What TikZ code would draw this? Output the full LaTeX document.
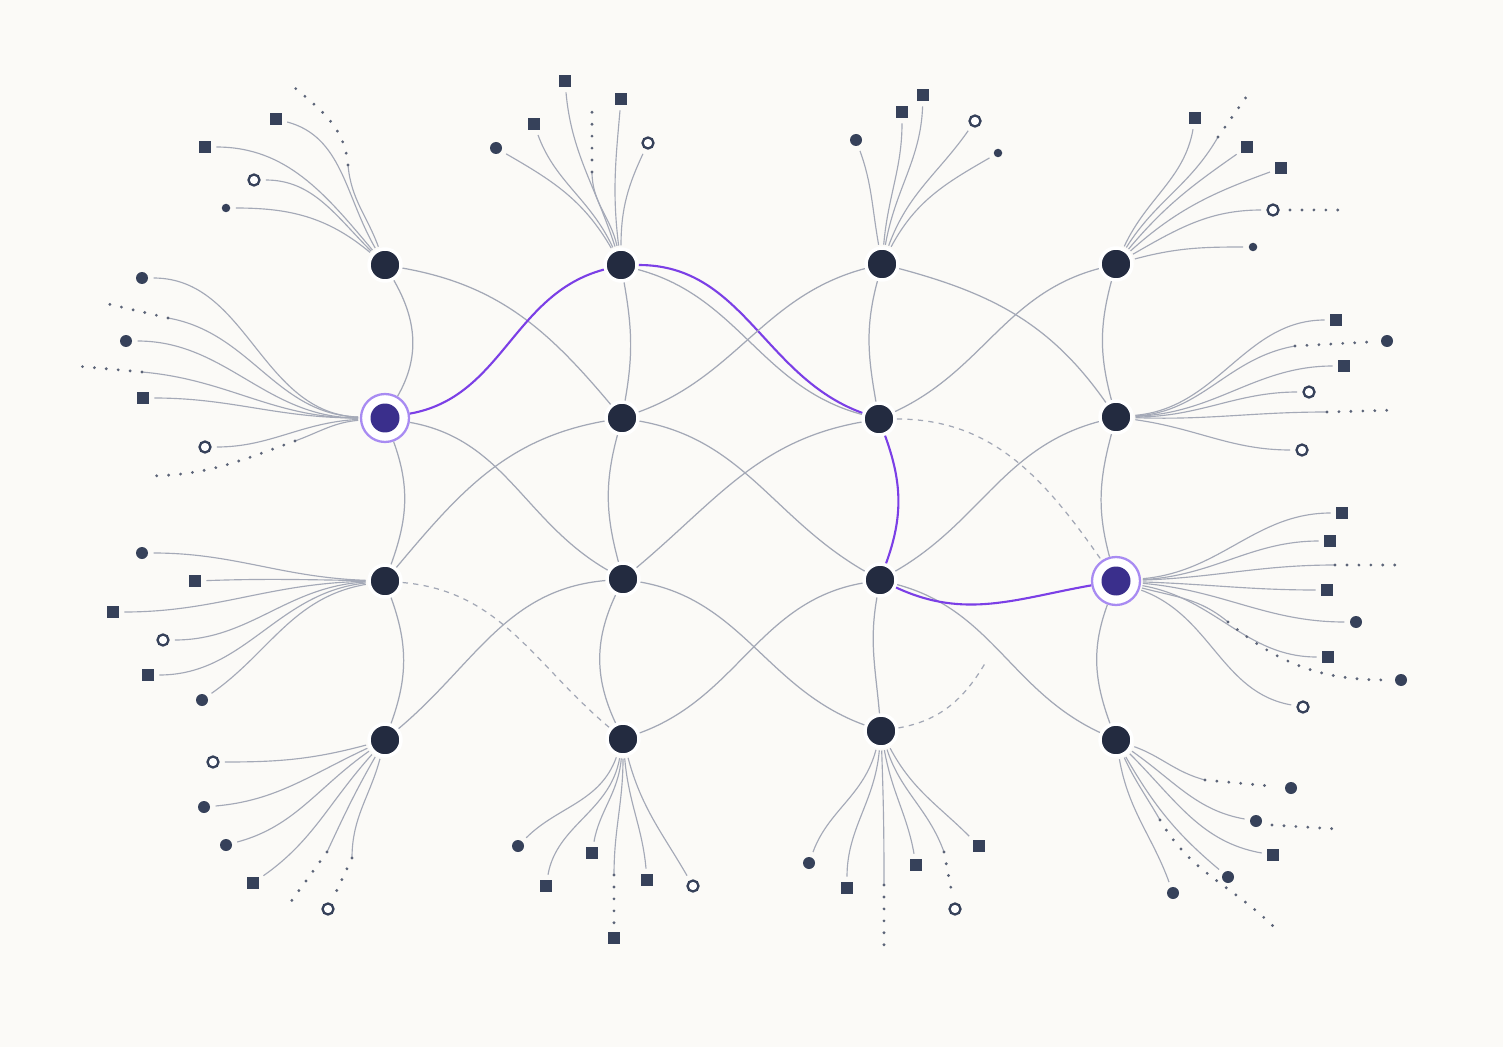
\documentclass[tikz,border=0pt]{standalone}
\definecolor{bgc}{HTML}{FBFAF7}
\definecolor{navy}{HTML}{232B40}
\definecolor{hlf}{HTML}{3A2F8C}
\definecolor{ringc}{HTML}{A88BF2}
\definecolor{purp}{HTML}{7B3FE6}
\definecolor{edgec}{HTML}{A3A8B6}
\definecolor{spk}{HTML}{A4A9B7}
\definecolor{mk}{HTML}{36415A}
\definecolor{dotc}{HTML}{5C6478}
\begin{document}
\begin{tikzpicture}[x=0.02cm,y=-0.02cm,
 hub/.style={circle,fill=navy,draw=white,line width=2pt,minimum size=0.64cm,inner sep=0pt},
 hubhl/.style={circle,fill=white,draw=ringc,line width=1.3pt,minimum size=0.96cm,inner sep=0pt,
   path picture={\fill[hlf] (path picture bounding box.center) circle (0.29cm);}},
 sq/.style={rectangle,fill=mk,minimum size=0.23cm,inner sep=0pt},
 dt/.style={circle,fill=mk,minimum size=0.24cm,inner sep=0pt},
 sdt/.style={circle,fill=mk,minimum size=0.17cm,inner sep=0pt},
 oc/.style={circle,draw=mk,fill=white,line width=1.3pt,minimum size=0.22cm,inner sep=0pt},
 ed/.style={draw=edgec,line width=0.7pt},
 edd/.style={ed,dash pattern=on 3pt off 3pt},
 pe/.style={draw=purp,line width=1.2pt},
 sp/.style={draw=spk,line width=0.65pt,shorten <=1pt,shorten >=3pt},
 spc/.style={draw=spk,line width=0.65pt,shorten <=1pt},
 dots/.style={draw=dotc,line width=1.8pt,line cap=round,dash pattern=on 0pt off 6.8pt},
]
\fill[bgc] (0,0) rectangle (1503,1047);
\useasboundingbox (0,0) rectangle (1503,1047);

% hubs
\node[hub] (n11) at (385,265) {};
\node[hub] (n12) at (621,265) {};
\node[hub] (n13) at (882,264) {};
\node[hub] (n14) at (1116,264) {};
\node[hubhl] (n21) at (385,418) {};
\node[hub] (n22) at (622,418) {};
\node[hub] (n23) at (879,419) {};
\node[hub] (n24) at (1116,417) {};
\node[hub] (n31) at (385,581) {};
\node[hub] (n32) at (623,579) {};
\node[hub] (n33) at (880,580) {};
\node[hubhl] (n34) at (1116,581) {};
\node[hub] (n41) at (385,740) {};
\node[hub] (n42) at (623,739) {};
\node[hub] (n43) at (881,731) {};
\node[hub] (n44) at (1116,740) {};

% grid edges
\draw[ed] (n11) to[out=-60,in=60] (n21);
\draw[ed] (n21) to[out=-70,in=70] (n31);
\draw[ed] (n31) to[out=-70,in=70] (n41);
\draw[ed] (n12) to[out=-80,in=80] (n22);
\draw[ed] (n22) to[out=-105,in=105] (n32);
\draw[ed] (n32) to[out=-115,in=115] (n42);
\draw[ed] (n13) to[out=-105,in=100] (n23);
\draw[pe] (n23) to[out=-70,in=70] (n33);
\draw[ed] (n33) to[out=-100,in=95] (n43);
\draw[ed] (n14) to[out=-105,in=105] (n24);
\draw[ed] (n24) to[out=-105,in=105] (n34);
\draw[ed] (n34) to[out=-110,in=110] (n44);

\draw[ed] (n11) to[out=-10,in=130] (n22);
\draw[pe] (n21) to[out=10,in=195] (n12);
\draw[pe] (n12) to[out=0,in=160] (n23);
\draw[ed] (n12) to[out=-15,in=165] (n23);
\draw[ed] (n22) to[out=20,in=195] (n13);
\draw[ed] (n21) to[out=-10,in=150] (n32);
\draw[ed] (n22) to[out=190,in=50] (n31);
\draw[ed] (n22) to[out=-10,in=150] (n33);
\draw[ed] (n23) to[out=190,in=40] (n32);
\draw[ed] (n32) to[out=185,in=40] (n41);
\draw[edd] (n31) to[out=-5,in=140] (n42);
\draw[ed] (n32) to[out=-10,in=160] (n43);
\draw[ed] (n33) to[out=190,in=20] (n42);
\draw[ed] (n13) to[out=-15,in=125] (n24);
\draw[ed] (n14) to[out=195,in=25] (n23);
\draw[ed] (n24) to[out=195,in=30] (n33);
\draw[edd] (n23) to[out=0,in=125] (n34);
\draw[ed] (n33) to[out=-15,in=155] (n44);
\draw[pe] (n33) to[out=-25,in=190] (n34);
\coordinate (stub) at (987,660);
\draw[edd] (n43) to[out=10,in=-120] (stub);

% fan n11
\node[sq] (a1) at (276,119) {};
\node[sq] (a2) at (205,147) {};
\node[oc] (a3) at (254,180) {};
\node[sdt] (a4) at (226,208) {};
\coordinate (a5m) at (348,165); \coordinate (a5e) at (295,88);
\draw[sp] (n11) to[out=120,in=-15] (a1);
\draw[sp] (n11) to[out=130,in=0] (a2);
\draw[sp] (n11) to[out=135,in=0] (a3);
\draw[sp] (n11) to[out=140,in=0] (a4);
\draw[spc] (n11) to[out=110,in=-85] (a5m);
\draw[dots] (a5m) to[out=95,in=-40] (a5e);

% fan n21
\node[dt] (b1) at (142,278) {};
\coordinate (b2m) at (168,318); \coordinate (b2e) at (104,303);
\node[dt] (b3) at (126,341) {};
\coordinate (b4m) at (142,372); \coordinate (b4e) at (76,366);
\node[sq] (b5) at (143,398) {};
\node[oc] (b6) at (205,447) {};
\coordinate (b7m) at (295,441); \coordinate (b7e) at (145,476);
\draw[sp] (n21) to[out=178,in=0] (b1);
\draw[spc] (n21) to[out=178,in=-10] (b2m); \draw[dots] (b2m) -- (b2e);
\draw[sp] (n21) to[out=180,in=0] (b3);
\draw[spc] (n21) to[out=180,in=-5] (b4m); \draw[dots] (b4m) -- (b4e);
\draw[sp] (n21) to[out=180,in=0] (b5);
\draw[sp] (n21) to[out=183,in=0] (b6);
\draw[spc] (n21) to[out=185,in=20] (b7m); \draw[dots] (b7m) to[out=200,in=0] (b7e);

% fan n31
\node[dt] (c1) at (142,553) {};
\node[sq] (c2) at (195,581) {};
\node[sq] (c3) at (113,612) {};
\node[oc] (c4) at (163,640) {};
\node[sq] (c5) at (148,675) {};
\node[dt] (c6) at (202,700) {};
\draw[sp] (n31) to[out=178,in=0] (c1);
\draw[sp] (n31) to[out=179,in=2] (c2);
\draw[sp] (n31) to[out=181,in=0] (c3);
\draw[sp] (n31) to[out=183,in=0] (c4);
\draw[sp] (n31) to[out=186,in=0] (c5);
\draw[sp] (n31) to[out=190,in=35] (c6);

% fan n41
\node[oc] (d1) at (213,762) {};
\node[dt] (d2) at (204,807) {};
\node[dt] (d3) at (226,845) {};
\node[sq] (d4) at (253,883) {};
\coordinate (d5m) at (327,852); \coordinate (d5e) at (287,907);
\coordinate (d6m) at (352,858); \node[oc] (d6) at (328,909) {};
\draw[sp] (n41) to[out=195,in=0] (d1);
\draw[sp] (n41) to[out=205,in=5] (d2);
\draw[sp] (n41) to[out=215,in=15] (d3);
\draw[sp] (n41) to[out=228,in=35] (d4);
\draw[spc] (n41) to[out=240,in=65] (d5m); \draw[dots] (d5m) -- (d5e);
\draw[spc] (n41) to[out=255,in=90] (d6m); \draw[dots,shorten >=5pt] (d6m) -- (d6);

% fan n12
\node[dt] (e1) at (496,148) {};
\node[sq] (e2) at (534,124) {};
\node[sq] (e3) at (565,81) {};
\coordinate (e4m) at (592,172); \coordinate (e4e) at (592,108);
\node[sq] (e5) at (621,99) {};
\node[oc] (e6) at (648,143) {};
\draw[sp] (n12) to[out=120,in=-30] (e1);
\draw[sp] (n12) to[out=115,in=-70] (e2);
\draw[sp] (n12) to[out=108,in=-85] (e3);
\draw[spc] (n12) to[out=102,in=-90] (e4m); \draw[dots] (e4m) -- (e4e);
\draw[sp] (n12) to[out=97,in=-95] (e5);
\draw[sp] (n12) to[out=90,in=-115] (e6);

% fan n13
\node[dt] (f1) at (856,140) {};
\node[sq] (f2) at (902,112) {};
\node[sq] (f3) at (923,95) {};
\node[oc] (f4) at (975,121) {};
\node[sdt] (f5) at (998,153) {};
\draw[sp] (n13) to[out=100,in=-70] (f1);
\draw[sp] (n13) to[out=85,in=-90] (f2);
\draw[sp] (n13) to[out=80,in=-92] (f3);
\draw[sp] (n13) to[out=70,in=-125] (f4);
\draw[sp] (n13) to[out=62,in=-150] (f5);

% fan n14
\node[sq] (g1) at (1195,118) {};
\coordinate (g2m) at (1218,137); \coordinate (g2e) at (1249,93);
\node[sq] (g3) at (1247,147) {};
\node[sq] (g4) at (1281,168) {};
\node[oc] (g5) at (1273,210) {};
\coordinate (g5a) at (1290,210); \coordinate (g5b) at (1345,210);
\node[sdt] (g6) at (1253,247) {};
\draw[sp] (n14) to[out=65,in=-100] (g1);
\draw[spc] (n14) to[out=58,in=-120] (g2m); \draw[dots] (g2m) -- (g2e);
\draw[sp] (n14) to[out=50,in=-145] (g3);
\draw[sp] (n14) to[out=42,in=-160] (g4);
\draw[sp] (n14) to[out=30,in=180] (g5);
\draw[dots] (g5a) -- (g5b);
\draw[sp] (n14) to[out=15,in=180] (g6);

% fan n24
\node[sq] (h1) at (1336,320) {};
\coordinate (h2m) at (1295,346); \node[dt] (h2) at (1387,341) {};
\node[sq] (h3) at (1344,366) {};
\node[oc] (h4) at (1309,392) {};
\coordinate (h5m) at (1327,412); \coordinate (h5e) at (1398,410);
\node[oc] (h6) at (1302,450) {};
\draw[sp] (n24) to[out=5,in=180] (h1);
\draw[spc] (n24) to[out=3,in=190] (h2m); \draw[dots,shorten >=5pt] (h2m) -- (h2);
\draw[sp] (n24) to[out=2,in=180] (h3);
\draw[sp] (n24) to[out=0,in=180] (h4);
\draw[spc] (n24) to[out=-2,in=180] (h5m); \draw[dots] (h5m) -- (h5e);
\draw[sp] (n24) to[out=-8,in=180] (h6);

% fan n34
\node[sq] (k1) at (1342,513) {};
\node[sq] (k2) at (1330,541) {};
\coordinate (k3m) at (1335,565); \coordinate (k3e) at (1405,565);
\node[sq] (k4) at (1327,590) {};
\node[dt] (k5) at (1356,622) {};
\node[sq] (k6) at (1328,657) {};
\coordinate (k7m) at (1228,622); \node[dt] (k7) at (1401,680) {};
\node[oc] (k8) at (1303,707) {};
\draw[sp] (n34) to[out=5,in=180] (k1);
\draw[sp] (n34) to[out=3,in=180] (k2);
\draw[spc] (n34) to[out=2,in=180] (k3m); \draw[dots] (k3m) -- (k3e);
\draw[sp] (n34) to[out=-2,in=180] (k4);
\draw[sp] (n34) to[out=-5,in=180] (k5);
\draw[sp] (n34) to[out=-10,in=180] (k6);
\draw[spc] (n34) to[out=-15,in=140] (k7m); \draw[dots,shorten >=5pt] (k7m) to[out=-40,in=180] (k7);
\draw[sp] (n34) to[out=-20,in=170] (k8);

% fan n42
\node[dt] (l1) at (518,846) {};
\node[sq] (l2) at (546,886) {};
\node[sq] (l3) at (592,853) {};
\coordinate (l4m) at (614,875); \coordinate (l4e) at (614,928);
\node[sq] (l4) at (614,938) {};
\node[sq] (l5) at (647,880) {};
\node[oc] (l6) at (693,886) {};
\draw[sp] (n42) to[out=-110,in=45] (l1);
\draw[sp] (n42) to[out=-100,in=80] (l2);
\draw[sp] (n42) to[out=-95,in=80] (l3);
\draw[spc] (n42) to[out=-90,in=90] (l4m); \draw[dots] (l4m) -- (l4e);
\draw[sp] (n42) to[out=-85,in=95] (l5);
\draw[sp] (n42) to[out=-75,in=120] (l6);

% fan n43
\node[dt] (m1) at (809,863) {};
\node[sq] (m2) at (847,888) {};
\coordinate (m3m) at (884,885); \coordinate (m3e) at (884,950);
\node[sq] (m4) at (916,865) {};
\coordinate (m5m) at (944,852); \node[oc] (m5) at (955,909) {};
\node[sq] (m6) at (979,846) {};
\draw[sp] (n43) to[out=-105,in=70] (m1);
\draw[sp] (n43) to[out=-95,in=90] (m2);
\draw[spc] (n43) to[out=-88,in=90] (m3m); \draw[dots] (m3m) -- (m3e);
\draw[sp] (n43) to[out=-80,in=100] (m4);
\draw[spc] (n43) to[out=-72,in=110] (m5m); \draw[dots,shorten >=5pt] (m5m) -- (m5);
\draw[sp] (n43) to[out=-62,in=135] (m6);

% fan n44
\coordinate (p1m) at (1205,780); \node[dt] (p1) at (1291,788) {};
\node[dt] (p2) at (1256,821) {};
\coordinate (p2a) at (1272,825); \coordinate (p2b) at (1337,829);
\node[sq] (p3) at (1273,855) {};
\node[dt] (p4) at (1228,877) {};
\node[dt] (p5) at (1173,893) {};
\coordinate (p6m) at (1160,820); \coordinate (p6e) at (1275,928);
\draw[spc] (n44) to[out=-20,in=165] (p1m); \draw[dots,shorten >=5pt] (p1m) -- (p1);
\draw[sp] (n44) to[out=-35,in=170] (p2); \draw[dots] (p2a) -- (p2b);
\draw[sp] (n44) to[out=-45,in=170] (p3);
\draw[sp] (n44) to[out=-60,in=140] (p4);
\draw[sp] (n44) to[out=-80,in=110] (p5);
\draw[spc] (n44) to[out=-65,in=120] (p6m); \draw[dots] (p6m) to[out=-60,in=135] (p6e);
\end{tikzpicture}
\end{document}
